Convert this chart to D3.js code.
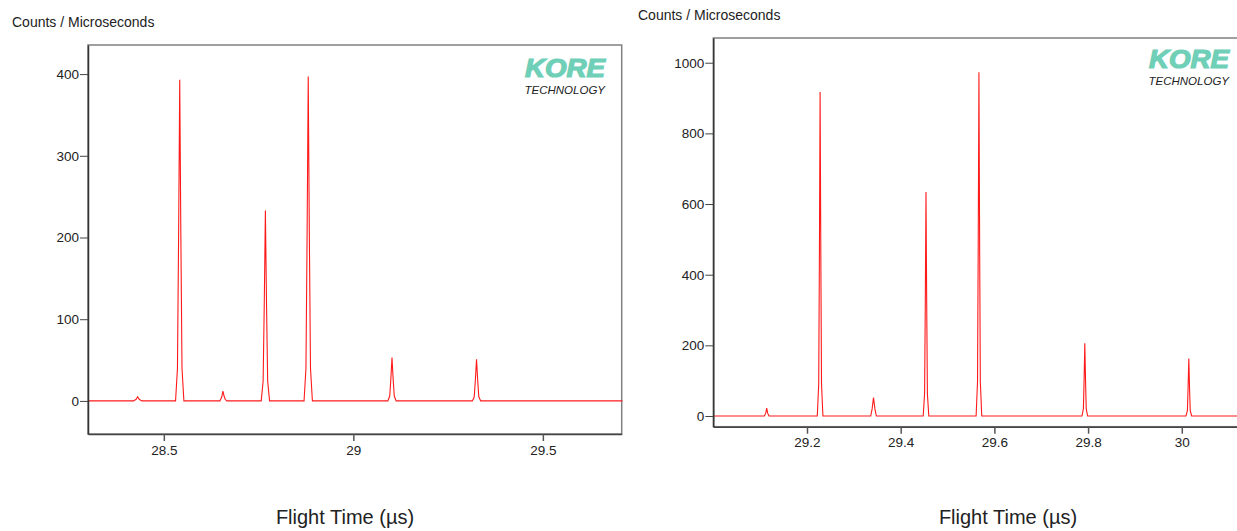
<!DOCTYPE html>
<html>
<head>
<meta charset="utf-8">
<script src="https://cdn.jsdelivr.net/npm/d3@7"></script>
<style>
  body { margin: 0; background: #fff; }
  text { font-family: "Liberation Sans", Arial, sans-serif; }
</style>
</head>
<body>
<div id="chart"></div>
<script>
const width = 1237;
const height = 531;

// left spectrum (flight time in µs, counts / µs)
const leftTimes = [28.30, 28.420, 28.427, 28.431, 28.435, 28.442, 28.531, 28.536, 28.539, 28.542, 28.545, 28.548, 28.553,
    28.648, 28.653, 28.656, 28.659, 28.662, 28.666, 28.757, 28.762, 28.765, 28.768, 28.771, 28.774, 28.779,
    28.870, 28.875, 28.878, 28.881, 28.884, 28.887, 28.892, 29.091, 29.096, 29.099, 29.102, 29.105, 29.108, 29.113,
    29.314, 29.319, 29.322, 29.325, 29.328, 29.331, 29.336, 29.71];
const leftCounts = [0, 0, 2, 5, 2, 0, 0, 40, 200, 393, 200, 40, 0,
    0, 5, 12, 6, 2, 0, 0, 24, 118, 233, 118, 24, 0,
    0, 40, 200, 397, 200, 40, 0, 0, 6, 27, 53, 27, 6, 0,
    0, 5, 26, 51, 26, 5, 0, 0];

// right spectrum
const rightTimes = [29.00, 29.109, 29.112, 29.114, 29.116, 29.119, 29.222, 29.225, 29.2265, 29.228, 29.2295, 29.231, 29.234,
    29.336, 29.339, 29.342, 29.345, 29.348, 29.448, 29.451, 29.4525, 29.454, 29.4555, 29.457, 29.460,
    29.561, 29.564, 29.5655, 29.567, 29.5685, 29.570, 29.573, 29.787, 29.790, 29.7915, 29.793, 29.7945, 29.796, 29.799,
    30.009, 30.012, 30.0135, 30.015, 30.0165, 30.018, 30.021, 30.13];
const rightCounts = [0, 0, 8, 22, 8, 0, 0, 90, 460, 917, 460, 90, 0,
    0, 20, 52, 20, 0, 0, 63, 317, 634, 317, 63, 0,
    0, 97, 487, 973, 487, 97, 0, 0, 21, 103, 206, 103, 21, 0,
    0, 16, 82, 163, 82, 16, 0, 0];

const leftXTicks = [28.5, 29, 29.5];
const leftYTicks = [0, 100, 200, 300, 400];
const rightXTicks = [29.2, 29.4, 29.6, 29.8, 30];
const rightYTicks = [0, 200, 400, 600, 800, 1000];

const yTitle = "Counts / Microseconds";
const xTitle = "Flight Time (µs)";

const svg = d3.select("#chart").append("svg")
    .attr("width", width)
    .attr("height", height);

function drawPanel(p) {
    const x = d3.scaleLinear().domain(p.xDomain).range([p.left, p.right]);
    const y = d3.scaleLinear().domain(p.yDomain).range([p.bottom, p.top]);

    const g = svg.append("g");

    // frame (top/right)
    g.append("rect")
        .attr("x", p.left)
        .attr("y", p.top)
        .attr("width", p.right - p.left)
        .attr("height", p.bottom - p.top)
        .attr("fill", "none")
        .attr("stroke", "#808080")
        .attr("stroke-width", 1.5);

    const line = d3.line()
        .x((d, i) => x(p.times[i]))
        .y(d => y(d));

    g.append("path")
        .datum(p.counts)
        .attr("d", line)
        .attr("fill", "none")
        .attr("stroke", "#ff1a1a")
        .attr("stroke-width", 1.1);

    const xAxis = g.append("g")
        .attr("transform", `translate(0,${p.bottom})`)
        .call(d3.axisBottom(x).tickValues(p.xTicks).tickFormat(d => String(d))
            .tickSize(7).tickPadding(4).tickSizeOuter(0));
    xAxis.select(".domain").attr("stroke", "#444").attr("stroke-width", 1.5);
    xAxis.selectAll(".tick line").attr("stroke", "#555").attr("stroke-width", 1.5);
    xAxis.selectAll("text").attr("font-size", "13.5px").attr("fill", "#222")
        .attr("font-family", "'Liberation Sans', Arial, sans-serif");

    const yAxis = g.append("g")
        .attr("transform", `translate(${p.left},0)`)
        .call(d3.axisLeft(y).tickValues(p.yTicks).tickFormat(d => String(d))
            .tickSize(8).tickPadding(1).tickSizeOuter(0));
    yAxis.select(".domain").attr("stroke", "#333").attr("stroke-width", 1.5);
    yAxis.selectAll(".tick line").attr("stroke", "#444");
    yAxis.selectAll("text").attr("font-size", "13.5px").attr("fill", "#222")
        .attr("font-family", "'Liberation Sans', Arial, sans-serif");

    // logo
    g.append("text")
        .attr("x", p.logoX)
        .attr("y", p.top + p.logoDy)
        .attr("text-anchor", "end")
        .attr("font-size", "25px")
        .attr("font-weight", "bold")
        .attr("font-style", "italic")
        .attr("fill", "#6fcfb7")
        .attr("stroke", "#6fcfb7")
        .attr("stroke-width", 1.2)
        .attr("textLength", 80)
        .attr("lengthAdjust", "spacingAndGlyphs")
        .text("KORE");
    g.append("text")
        .attr("x", p.logoX)
        .attr("y", p.top + p.logoDy + 17)
        .attr("text-anchor", "end")
        .attr("font-size", "11.5px")
        .attr("font-style", "italic")
        .attr("fill", "#222")
        .text("TECHNOLOGY");

    svg.append("text")
        .attr("x", p.yTitleX)
        .attr("y", p.yTitleY)
        .attr("font-size", "14px")
        .attr("fill", "#222")
        .text(yTitle);

    svg.append("text")
        .attr("x", p.xTitleX)
        .attr("y", 524)
        .attr("text-anchor", "middle")
        .attr("font-size", "20px")
        .attr("fill", "#222")
        .text(xTitle);
}

drawPanel({
    left: 88, right: 621.7, top: 45, bottom: 434,
    xDomain: [28.3, 29.708], yDomain: [-40.5, 435.6],
    times: leftTimes, counts: leftCounts,
    xTicks: leftXTicks, yTicks: leftYTicks,
    logoX: 605, logoDy: 32,
    yTitleX: 12, yTitleY: 27, xTitleX: 345
});

drawPanel({
    left: 713.3, right: 1238, top: 38, bottom: 426.7,
    xDomain: [29.0, 30.12], yDomain: [-30.3, 1070],
    times: rightTimes, counts: rightCounts,
    xTicks: rightXTicks, yTicks: rightYTicks,
    logoX: 1229, logoDy: 30,
    yTitleX: 638, yTitleY: 20, xTitleX: 1008
});
</script>
</body>
</html>
